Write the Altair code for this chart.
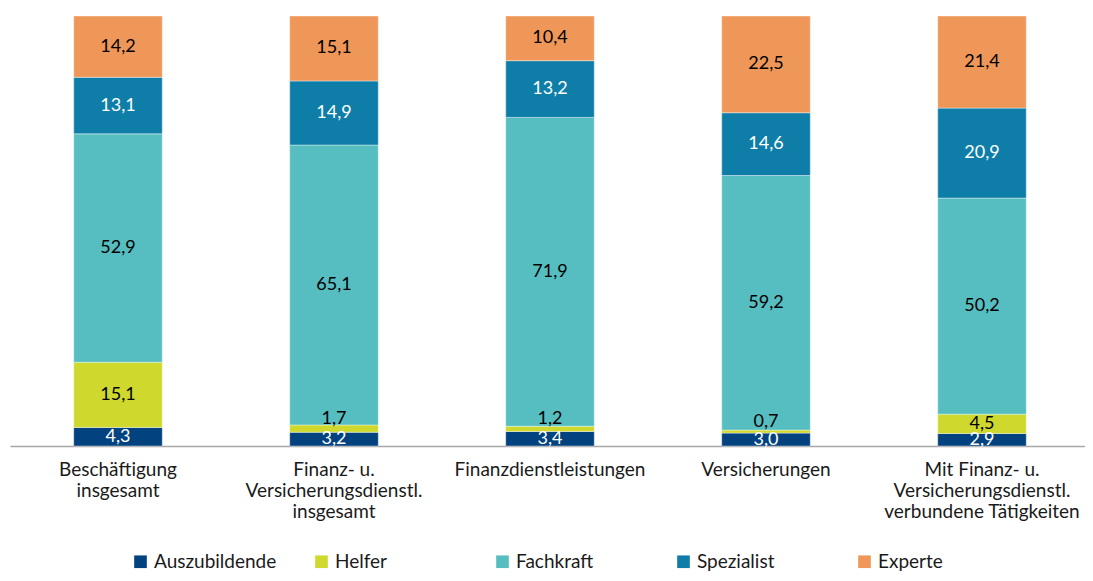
import altair as alt
import pandas as pd

categories = [
    "Beschäftigung|insgesamt",
    "Finanz- u.|Versicherungsdienstl.|insgesamt",
    "Finanzdienstleistungen",
    "Versicherungen",
    "Mit Finanz- u.|Versicherungsdienstl.|verbundene Tätigkeiten",
]
series = ["Auszubildende", "Helfer", "Fachkraft", "Spezialist", "Experte"]
colors = ["#02427f", "#cfd82d", "#56bec0", "#0e7ea8", "#ee9759"]
text_colors = ["white", "black", "black", "white", "black"]

auszubildende = [4.3, 3.2, 3.4, 3.0, 2.9]
helfer = [15.1, 1.7, 1.2, 0.7, 4.5]
fachkraft = [52.9, 65.1, 71.9, 59.2, 50.2]
spezialist = [13.1, 14.9, 13.2, 14.6, 20.9]
experte = [14.2, 15.1, 10.4, 22.5, 21.4]

values = [auszubildende, helfer, fachkraft, spezialist, experte]
rows = []
for si, (s, vals) in enumerate(zip(series, values)):
    for c, v in zip(categories, vals):
        rows.append({"cat": c, "series": s, "value": v, "order": si,
                     "tcolor": text_colors[si]})
df = pd.DataFrame(rows)

FONT = "Lato"

base = alt.Chart(df).transform_stack(
    stack="value", groupby=["cat"], as_=["y0", "y1"],
    offset="normalize", sort=[alt.SortField("order", order="ascending")]
).transform_calculate(
    mid="(datum.y0 + datum.y1) / 2",
    label="replace(format(datum.value, '.1f'), '.', ',')",
)

x_scale = alt.Scale(paddingInner=0.59, paddingOuter=0.295, range=[0, 1080])
x_enc = alt.X("cat:N", sort=categories, title=None, scale=x_scale,
              axis=alt.Axis(labelExpr="split(datum.label, '|')", labelAngle=0,
                            labelFontSize=19, labelFont=FONT, labelColor="#1a1a1a",
                            labelPadding=14, labelLineHeight=21, ticks=False,
                            domainColor="#a6a6a6", domainWidth=1.5,
                            labelBaseline="top", labelLimit=300))
y_scale = alt.Scale(domain=[0, 1], nice=False)

bars = base.mark_bar(stroke="white", strokeWidth=0.4).encode(
    x=x_enc,
    y=alt.Y("y0:Q", scale=y_scale, axis=None),
    y2="y1:Q",
    color=alt.Color("series:N", sort=series,
                    scale=alt.Scale(domain=series, range=colors),
                    legend=alt.Legend(orient="none", legendX=121, legendY=536,
                                      direction="horizontal", columns=5,
                                      symbolType="square", symbolSize=160,
                                      symbolStrokeWidth=0, title=None,
                                      labelFontSize=19, labelFont=FONT,
                                      labelColor="#1a1a1a", columnPadding=35,
                                      gridAlign="all", labelOffset=4)),
)

text_main = base.transform_filter(
    "!(datum.series == 'Helfer' && datum.value < 2)"
).mark_text(fontSize=18, font=FONT, baseline="middle").encode(
    x=alt.X("cat:N", sort=categories),
    y=alt.Y("mid:Q", scale=y_scale),
    text="label:N",
    color=alt.Color("tcolor:N", scale=None),
)

text_small = base.transform_filter(
    "datum.series == 'Helfer' && datum.value < 2"
).mark_text(fontSize=18, font=FONT, baseline="middle", dy=-10).encode(
    x=alt.X("cat:N", sort=categories),
    y=alt.Y("mid:Q", scale=y_scale),
    text="label:N",
    color=alt.Color("tcolor:N", scale=None),
)

chart = alt.layer(bars, text_main, text_small).properties(
    width=1075, height=430, background="white",
    padding={"left": 2, "top": 8, "right": 0, "bottom": 127},
    autosize=alt.AutoSizeParams(type="none"),
).configure_view(stroke="transparent", strokeWidth=0)

chart.save("out.html", embed_options={"renderer": "svg", "actions": False})
